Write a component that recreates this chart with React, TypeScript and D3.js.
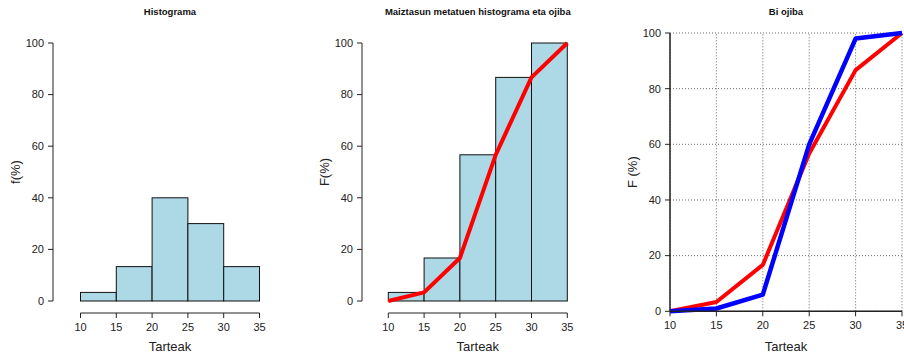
import React from "react";
import * as d3 from "d3";

// class breaks and relative frequencies (%)
const breaks = [10, 15, 20, 25, 30, 35];
const freqPct = [3.33, 13.33, 40, 30, 13.33];
const cumPct = [0, 3.33, 16.67, 56.67, 86.67, 100];
const cumPct2 = [0, 1, 6, 60, 98, 100];
const yTicks = [0, 20, 40, 60, 80, 100];

const FONT = "Liberation Sans, Arial, Helvetica, sans-serif";

type PanelProps = {
  x0: number;
  x1: number;
  yTop: number;
  yBottom: number;
  axisX: number;
  axisY: number;
  title: string;
  ylab: string;
  ylabX: number;
  children?: (x: d3.ScaleLinear<number, number>, y: d3.ScaleLinear<number, number>) => React.ReactNode;
  titleX?: number;
  grid?: boolean;
};

const Panel = ({ x0, x1, yTop, yBottom, axisX, axisY, title, ylab, ylabX, children, grid }: PanelProps) => {
  const x = d3.scaleLinear().domain([10, 35]).range([x0, x1]);
  const y = d3.scaleLinear().domain([0, 100]).range([yBottom, yTop]);
  const cx = (x0 + x1) / 2;
  return (
    <g fontFamily={FONT}>
      <text x={cx} y={15} textAnchor="middle" fontSize={9.5} fontWeight="bold" fill="#111">
        {title}
      </text>
      {grid && (
        <g stroke="#444" strokeWidth={0.8} strokeDasharray="1,2">
          {breaks.map((b) => (
            <line key={"gx" + b} x1={x(b)} x2={x(b)} y1={y(0)} y2={y(100)} />
          ))}
          {yTicks.map((t) => (
            <line key={"gy" + t} x1={x(10)} x2={x(35)} y1={y(t)} y2={y(t)} />
          ))}
        </g>
      )}
      {children && children(x, y)}
      {/* y axis */}
      <line x1={axisX} x2={axisX} y1={y(0)} y2={y(100)} stroke="#222" strokeWidth={grid ? 1.5 : 1} />
      {yTicks.map((t) => (
        <g key={"y" + t}>
          <line x1={axisX - 5} x2={axisX} y1={y(t)} y2={y(t)} stroke="#222" />
          <text x={axisX - 9} y={y(t)} dy="0.35em" textAnchor="end" fontSize={11} fill="#222">
            {t}
          </text>
        </g>
      ))}
      {/* x axis */}
      <line x1={x(10)} x2={x(35)} y1={axisY} y2={axisY} stroke="#222" strokeWidth={grid ? 1.5 : 1} />
      {breaks.map((b) => (
        <g key={"x" + b}>
          <line x1={x(b)} x2={x(b)} y1={axisY} y2={axisY + 5} stroke="#222" />
          <text x={x(b)} y={axisY + 18} textAnchor="middle" fontSize={11} fill="#222">
            {b}
          </text>
        </g>
      ))}
      <text x={cx} y={351} textAnchor="middle" fontSize={13} fill="#222">
        Tarteak
      </text>
      <text
        transform={`translate(${ylabX},${(yTop + yBottom) / 2}) rotate(-90)`}
        textAnchor="middle"
        fontSize={13}
        fill="#222"
      >
        {ylab}
      </text>
    </g>
  );
};

const Bars = ({ x, y, vals }: { x: d3.ScaleLinear<number, number>; y: d3.ScaleLinear<number, number>; vals: number[] }) => (
  <g>
    {vals.map((v, i) => (
      <rect
        key={i}
        x={x(breaks[i])}
        y={y(v)}
        width={x(breaks[i + 1]) - x(breaks[i])}
        height={y(0) - y(v)}
        fill="#ADD8E6"
        stroke="#111"
        strokeWidth={1}
      />
    ))}
  </g>
);

const ogive = (x: d3.ScaleLinear<number, number>, y: d3.ScaleLinear<number, number>, vals: number[]) =>
  d3
    .line<number>()
    .x((_, i) => x(breaks[i]))
    .y((d) => y(d))(vals) || "";

export default function App() {
  return (
    <svg
      width={904}
      height={355}
      style={{ position: "absolute", left: 0, top: 0, background: "#fff" }}
    >
      <Panel x0={80.5} x1={259.5} yTop={43} yBottom={301} axisX={53} axisY={313} title="Histograma" ylab="f(%)" ylabX={20}>
        {(x, y) => <Bars x={x} y={y} vals={freqPct} />}
      </Panel>
      <Panel
        x0={388.3}
        x1={567.3}
        yTop={43}
        yBottom={301}
        axisX={362}
        axisY={313}
        title="Maiztasun metatuen histograma eta ojiba"
        ylab="F(%)"
        ylabX={329}
      >
        {(x, y) => (
          <g>
            <Bars x={x} y={y} vals={cumPct.slice(1)} />
            <path d={ogive(x, y, cumPct)} fill="none" stroke="#FF0000" strokeWidth={4} strokeLinejoin="round" />
          </g>
        )}
      </Panel>
      <Panel
        x0={670}
        x1={902}
        yTop={33}
        yBottom={311.3}
        axisX={670}
        axisY={311.3}
        title="Bi ojiba"
        ylab="F (%)"
        ylabX={637}
        grid
      >
        {(x, y) => (
          <g>
            <path d={ogive(x, y, cumPct)} fill="none" stroke="#FF0000" strokeWidth={4} strokeLinejoin="round" />
            <path d={ogive(x, y, cumPct2)} fill="none" stroke="#0000FF" strokeWidth={4.5} strokeLinejoin="round" />
          </g>
        )}
      </Panel>
    </svg>
  );
}
